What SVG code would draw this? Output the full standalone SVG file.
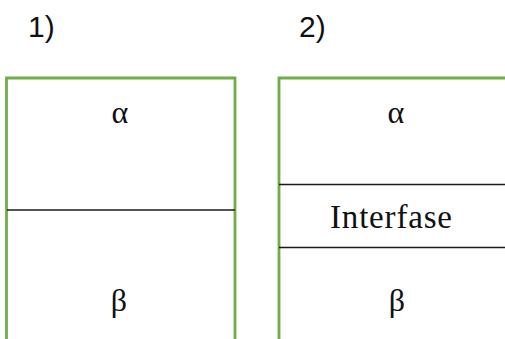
<svg xmlns="http://www.w3.org/2000/svg" width="505" height="339" viewBox="0 0 505 339">
<style>
.box{fill:none;stroke:#70AD47;stroke-width:2.8}
.div{stroke:#1a1a1a;stroke-width:1.4}
.lbl{font-family:"Liberation Sans",Arial,sans-serif;font-size:30px;fill:#111}
.g{font-family:"Liberation Serif","Times New Roman",serif;font-size:32px;fill:#111;text-anchor:middle}
</style>
<rect width="505" height="339" fill="#fff"/>
<g id="label1"><text class="lbl" x="28" y="37">1)</text></g>
<g id="label2"><text class="lbl" x="299" y="37">2)</text></g>
<g id="box1">
<path class="box" d="M6.5,340 V78 H235 V340"/>
<line class="div" x1="7" y1="210" x2="235" y2="210"/>
<text class="g" x="120" y="123">α</text>
<text class="g" x="119" y="311">β</text>
</g>
<g id="box2">
<path class="box" d="M279,340 V78 H506"/>
<line class="div" x1="279" y1="184.5" x2="505" y2="184.5"/>
<line class="div" x1="279" y1="247.5" x2="505" y2="247.5"/>
<text class="g" x="396" y="123">α</text>
<text class="g" x="391" y="228" style="font-size:33px" textLength="122" lengthAdjust="spacing">Interfase</text>
<text class="g" x="397" y="311">β</text>
</g>
<g id="connectors"></g>
</svg>
